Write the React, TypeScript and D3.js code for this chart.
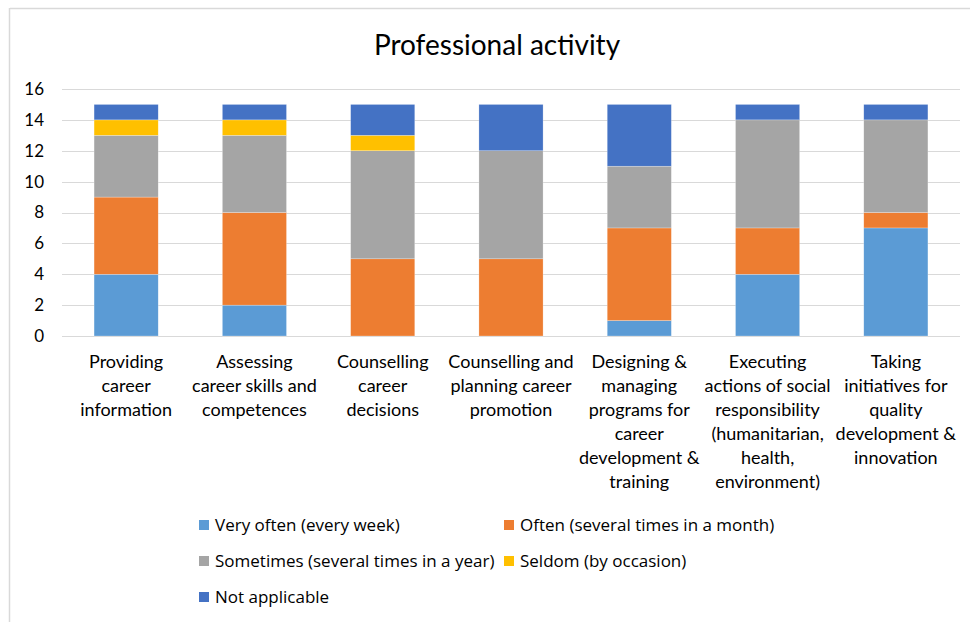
import React, { useEffect, useRef } from 'react';
import * as d3 from 'd3';

// categories (as wrapped in the chart)
const categories = [
  'Providing career information',
  'Assessing career skills and competences',
  'Counselling career decisions',
  'Counselling and planning career promotion',
  'Designing & managing programs for career development & training',
  'Executing actions of social responsibility (humanitarian, health, environment)',
  'Taking initiatives for quality development & innovation',
];
const categoryLines = [
  ['Providing', 'career', 'information'],
  ['Assessing', 'career skills and', 'competences'],
  ['Counselling', 'career', 'decisions'],
  ['Counselling and', 'planning career', 'promotion'],
  ['Designing &', 'managing', 'programs for', 'career', 'development &', 'training'],
  ['Executing', 'actions of social', 'responsibility', '(humanitarian,', 'health,', 'environment)'],
  ['Taking', 'initiatives for', 'quality', 'development &', 'innovation'],
];

const seriesNames = [
  'Very often (every week)',
  'Often (several times in a month)',
  'Sometimes (several times in a year)',
  'Seldom (by occasion)',
  'Not applicable',
];
const veryOften = [4, 2, 0, 0, 1, 4, 7];
const often = [5, 6, 5, 5, 6, 3, 1];
const sometimes = [4, 5, 7, 7, 4, 7, 6];
const seldom = [1, 1, 1, 0, 0, 0, 0];
const notApplicable = [1, 1, 2, 3, 4, 1, 1];
const colors = ['#5B9BD5', '#ED7D31', '#A5A5A5', '#FFC000', '#4472C4'];
const yTicks = [0, 2, 4, 6, 8, 10, 12, 14, 16];

const W = 970, H = 622;

export default function App() {
  const ref = useRef<SVGSVGElement>(null);

  useEffect(() => {
    const svg = d3.select(ref.current);
    svg.selectAll('*').remove();

    const keys = ['vo', 'of', 'so', 'se', 'na'];
    const rows = categories.map((c, i) => ({
      cat: c, vo: veryOften[i], of: often[i], so: sometimes[i], se: seldom[i], na: notApplicable[i],
    }));
    const stacked = d3.stack<any>().keys(keys)(rows);

    const x = d3.scaleBand().domain(categories).range([62, 960]).paddingInner(0.5).paddingOuter(0.25);
    const y = d3.scaleLinear().domain([0, 16]).range([336, 89]);

    // frame edges
    svg.append('line').attr('x1', 10).attr('x2', W).attr('y1', 8.5).attr('y2', 8.5)
      .attr('stroke', '#D9D9D9').attr('stroke-width', 1.5);
    svg.append('line').attr('x1', 9.5).attr('x2', 9.5).attr('y1', 8).attr('y2', H)
      .attr('stroke', '#D9D9D9').attr('stroke-width', 1.5);

    svg.append('text').attr('x', 497).attr('y', 55).attr('text-anchor', 'middle')
      .attr('font-family', 'Lato, sans-serif').attr('font-size', 28).attr('fill', '#000')
      .text('Professional activity');

    // grid
    svg.append('g').selectAll('line').data(yTicks).enter().append('line')
      .attr('x1', 62).attr('x2', 960)
      .attr('y1', d => Math.round(y(d)) + 0.5).attr('y2', d => Math.round(y(d)) + 0.5)
      .attr('stroke', '#D9D9D9').attr('stroke-width', 1);

    const yAxis = svg.append('g').attr('transform', 'translate(44,0)')
      .call(d3.axisLeft(y).tickValues(yTicks).tickSize(0).tickPadding(0));
    yAxis.select('.domain').remove();
    yAxis.selectAll('text').attr('font-family', 'Lato, sans-serif').attr('font-size', 17).attr('fill', '#000');

    // bars
    svg.append('g').selectAll('g').data(stacked).enter().append('g')
      .attr('fill', (d, i) => colors[i])
      .selectAll('rect').data(d => d).enter().append('rect')
      .attr('x', d => x(d.data.cat)!)
      .attr('width', x.bandwidth())
      .attr('y', d => y(d[1]))
      .attr('height', d => y(d[0]) - y(d[1]))
      .attr('stroke', 'rgba(255,255,255,0.5)').attr('stroke-width', 0.5);

    // category labels
    const lab = svg.append('g');
    categories.forEach((c, i) => {
      const t = lab.append('text').attr('text-anchor', 'middle')
        .attr('font-family', 'Lato, sans-serif').attr('font-size', 18).attr('fill', '#000');
      categoryLines[i].forEach((ln, j) => {
        t.append('tspan').attr('x', x(c)! + x.bandwidth() / 2).attr('y', 368 + j * 24).text(ln);
      });
    });

    // legend
    const legPos = [[199, 525], [504, 525], [199, 561], [504, 561], [199, 597]];
    const leg = svg.append('g');
    seriesNames.forEach((s, i) => {
      const [lx, ly] = legPos[i];
      leg.append('rect').attr('x', lx).attr('y', ly - 5).attr('width', 10).attr('height', 10).attr('fill', colors[i]);
      leg.append('text').attr('x', lx + 16).attr('y', ly + 6)
        .attr('font-family', '"Open Sans", sans-serif').attr('font-size', 17).attr('fill', '#000').text(s);
    });
  }, []);

  return (
    <svg ref={ref} width={W} height={H}
      style={{ position: 'absolute', left: 0, top: 0, background: '#fff' }} />
  );
}
